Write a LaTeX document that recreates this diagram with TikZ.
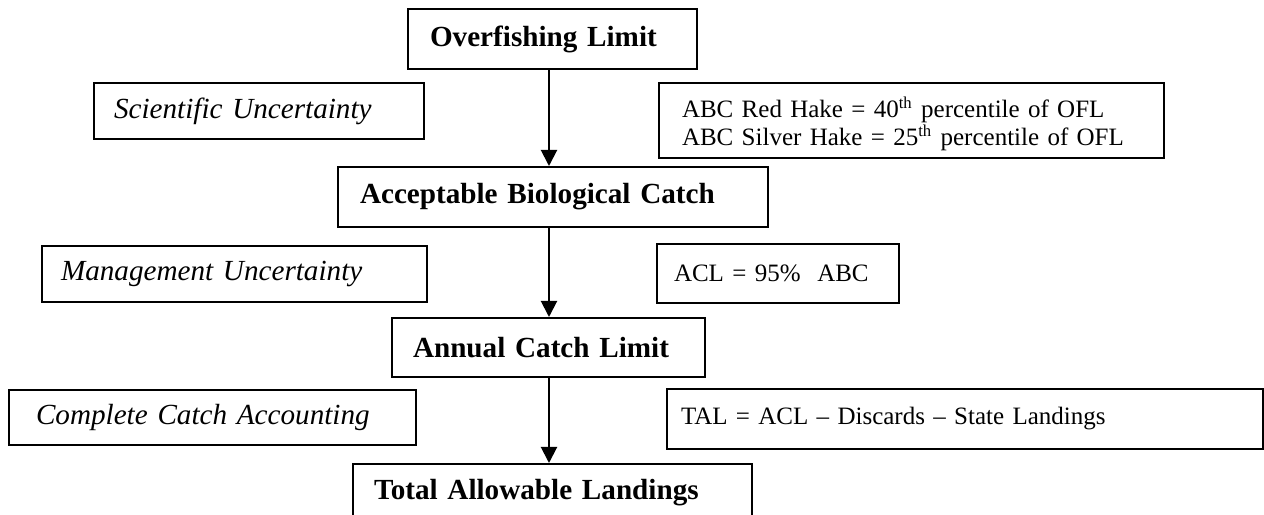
\documentclass[tikz,border=0pt]{standalone}
\usepackage{fontspec}
\setmainfont{Liberation Serif}
\usetikzlibrary{arrows.meta}

\begin{document}
\begin{tikzpicture}[x=0.48pt, y=-0.48pt,
stepbox/.style={draw, line width=0.96pt, rectangle, anchor=north west, align=left, inner ysep=0pt},
limitbox/.style={stepbox, font=\fontsize{14}{16}\selectfont\bfseries},
sourcebox/.style={stepbox, font=\fontsize{14}{16}\selectfont\itshape},
rulebox/.style={stepbox, font=\fontsize{12}{13.44}\selectfont},
flow/.style={-{Triangle[length=7.7pt, width=7.7pt]}, line width=0.96pt}]
\fill[white] (0,0) rectangle (1264,515);
\clip (0,0) rectangle (1264,515);
\coordinate (spine) at (549,0);
\node[limitbox, minimum width=138.72pt, minimum height=28.8pt, inner xsep=10.56pt, text width=117.6pt] (ofl) at (407,8) {Overfishing Limit};
\node[limitbox, minimum width=206.4pt, minimum height=28.8pt, inner xsep=10.56pt, text width=185.28pt] (abc) at (337,166) {Acceptable Biological Catch};
\node[limitbox, minimum width=150.24pt, minimum height=28.32pt, inner xsep=10.08pt, text width=130.08pt] (acl) at (391,317) {Annual Catch Limit};
\node[limitbox, minimum width=191.52pt, minimum height=27.84pt, inner xsep=10.08pt, text width=171.36pt] (tal) at (352,463) {Total Allowable Landings};
\node[sourcebox, minimum width=158.4pt, minimum height=26.88pt, inner xsep=9.6pt, text width=139.2pt] (sci) at (93,82) {Scientific Uncertainty};
\node[sourcebox, minimum width=184.8pt, minimum height=26.88pt, inner xsep=9.12pt, text width=166.56pt] (mgmt) at (41,245) {Management Uncertainty};
\node[sourcebox, minimum width=195.36pt, minimum height=26.4pt, inner xsep=12.96pt, text width=169.44pt] (cca) at (8,389) {Complete Catch Accounting};
\node[rulebox, minimum width=242.4pt, minimum height=36pt, inner xsep=11.04pt, text width=220.32pt] (abcrule) at (658,82) {\rule{0pt}{13pt}ABC Red Hake = 40\textsuperscript{th} percentile of OFL\\ABC Silver Hake = 25\textsuperscript{th} percentile of OFL};
\node[rulebox, minimum width=116.16pt, minimum height=28.32pt, inner xsep=8.16pt, text width=99.84pt] (aclrule) at (656,243) {ACL = 95\%~ ABC};
\node[rulebox, minimum width=286.08pt, minimum height=28.8pt, inner xsep=6.72pt, text width=272.64pt] (talrule) at (666,388) {TAL = ACL -- Discards -- State Landings};
\draw[flow] (ofl.south -| spine) -- (abc.north -| spine);
\draw[flow] (abc.south -| spine) -- (acl.north -| spine);
\draw[flow] (acl.south -| spine) -- (tal.north -| spine);
\end{tikzpicture}
\end{document}
